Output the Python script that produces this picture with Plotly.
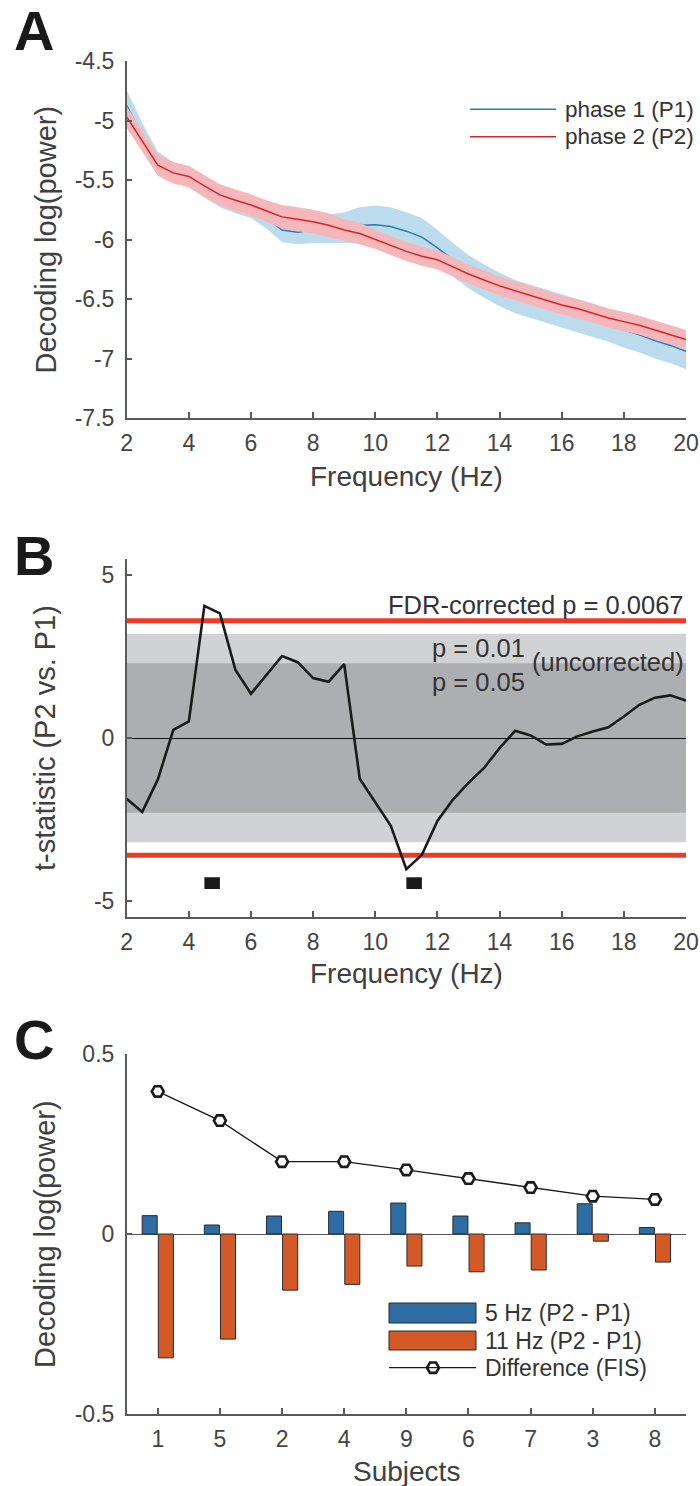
import plotly.graph_objects as go

# ---------------- data ----------------
freq = [2.0, 2.5, 3.0, 3.5, 4.0, 4.5, 5.0, 5.5, 6.0, 6.5, 7.0, 7.5, 8.0, 8.5, 9.0, 9.5,
        10.0, 10.5, 11.0, 11.5, 12.0, 12.5, 13.0, 13.5, 14.0, 14.5, 15.0, 15.5, 16.0,
        16.5, 17.0, 17.5, 18.0, 18.5, 19.0, 19.5, 20.0]

p1_mean = [-4.875, -5.12, -5.34, -5.43, -5.48, -5.57, -5.65, -5.70, -5.74, -5.82, -5.92,
           -5.94, -5.92, -5.91, -5.90, -5.88, -5.875, -5.89, -5.93, -5.98, -6.07, -6.17,
           -6.27, -6.35, -6.42, -6.48, -6.52, -6.56, -6.60, -6.64, -6.68, -6.72, -6.76,
           -6.80, -6.85, -6.89, -6.94]
p1_sem = [0.13, 0.10, 0.08, 0.08, 0.08, 0.08, 0.08, 0.08, 0.08, 0.09, 0.10, 0.10, 0.11,
          0.12, 0.13, 0.15, 0.16, 0.16, 0.16, 0.16, 0.15, 0.14, 0.14, 0.14, 0.14, 0.14,
          0.14, 0.14, 0.14, 0.14, 0.14, 0.14, 0.15, 0.15, 0.15, 0.15, 0.15]

p2_mean = [-4.97, -5.17, -5.375, -5.44, -5.47, -5.55, -5.625, -5.67, -5.71, -5.76, -5.81,
           -5.83, -5.85, -5.88, -5.92, -5.95, -6.00, -6.05, -6.10, -6.14, -6.17, -6.23,
           -6.29, -6.34, -6.39, -6.43, -6.47, -6.51, -6.55, -6.58, -6.62, -6.66, -6.69,
           -6.72, -6.76, -6.80, -6.84]
p2_sem = [0.09, 0.09, 0.09, 0.09, 0.09, 0.09, 0.09, 0.09, 0.09, 0.09, 0.10, 0.10, 0.10,
          0.10, 0.09, 0.09, 0.08, 0.08, 0.08, 0.08, 0.08, 0.08, 0.08, 0.08, 0.08, 0.08,
          0.08, 0.08, 0.08, 0.08, 0.08, 0.08, 0.08, 0.08, 0.08, 0.08, 0.08]

t_stat = [-1.87, -2.27, -1.28, 0.25, 0.51, 4.06, 3.83, 2.09, 1.36, 1.94, 2.52, 2.33, 1.84,
          1.73, 2.27, -1.25, -1.99, -2.70, -4.03, -3.59, -2.55, -1.89, -1.38, -0.92, -0.31,
          0.22, 0.08, -0.20, -0.18, 0.05, 0.20, 0.33, 0.66, 1.02, 1.24, 1.31, 1.15]

thr_p05 = 2.3
thr_p01 = 3.2
thr_fdr = 3.6
sig_center = [4.75, 11.25]
sig_width = 0.5
sig_level = -4.46
sig_height = 0.36

subjects = ["1", "5", "2", "4", "9", "6", "7", "3", "8"]
diff_5hz = [0.051, 0.025, 0.050, 0.063, 0.086, 0.050, 0.031, 0.084, 0.018]
diff_11hz = [-0.344, -0.292, -0.156, -0.140, -0.089, -0.105, -0.100, -0.020, -0.078]
fis = [0.396, 0.315, 0.201, 0.201, 0.178, 0.154, 0.129, 0.105, 0.096]

# ---------------- style ----------------
FONT = "Liberation Sans, Arial, Helvetica, sans-serif"
W, H = 700, 1486
AXC = "#5a5a5a"
TXT = "#333333"
BLUE_L = "#2a7bbd"
BLUE_F = "#bcdced"
RED_L = "#dc2229"
RED_F = "#f5b7ba"
BAR_B = "#2e6ca4"
BAR_O = "#d35a27"


def px(x):
    return x / W


def py(y):
    return 1 - y / H


fig = go.Figure()

# ---- Panel A ----
fig.add_trace(go.Scatter(
    x=freq + freq[::-1],
    y=[m + s for m, s in zip(p1_mean, p1_sem)] + [m - s for m, s in zip(p1_mean, p1_sem)][::-1],
    fill="toself", fillcolor=BLUE_F, line=dict(width=0), mode="lines",
    hoverinfo="skip", showlegend=False, xaxis="x", yaxis="y"))
fig.add_trace(go.Scatter(x=freq, y=p1_mean, mode="lines", line=dict(color=BLUE_L, width=1.5),
                         showlegend=False, xaxis="x", yaxis="y"))
fig.add_trace(go.Scatter(
    x=freq + freq[::-1],
    y=[m + s for m, s in zip(p2_mean, p2_sem)] + [m - s for m, s in zip(p2_mean, p2_sem)][::-1],
    fill="toself", fillcolor=RED_F, line=dict(width=0), mode="lines",
    hoverinfo="skip", showlegend=False, xaxis="x", yaxis="y"))
fig.add_trace(go.Scatter(x=freq, y=p2_mean, mode="lines", line=dict(color=RED_L, width=1.5),
                         showlegend=False, xaxis="x", yaxis="y"))

# ---- Panel B ----
fig.add_trace(go.Scatter(x=freq, y=t_stat, mode="lines", line=dict(color="#1a1a1a", width=2.6),
                         showlegend=False, xaxis="x2", yaxis="y2"))
fig.add_trace(go.Bar(x=sig_center, y=[sig_height] * len(sig_center),
                     base=[sig_level - sig_height / 2] * len(sig_center),
                     width=sig_width, marker=dict(color="#1a1a1a", line=dict(width=0)),
                     showlegend=False, xaxis="x2", yaxis="y2"))

# ---- Panel C ----
fig.add_trace(go.Bar(x=subjects, y=diff_5hz, marker=dict(color=BAR_B, line=dict(color="#2b2b2b", width=1)),
                     showlegend=False, xaxis="x3", yaxis="y3"))
fig.add_trace(go.Bar(x=subjects, y=diff_11hz, marker=dict(color=BAR_O, line=dict(color="#2b2b2b", width=1)),
                     showlegend=False, xaxis="x3", yaxis="y3"))
fig.add_trace(go.Scatter(x=subjects, y=fis, mode="lines+markers",
                         line=dict(color="#1a1a1a", width=1.3),
                         marker=dict(symbol="hexagon2", size=12, color="white",
                                     line=dict(color="#1a1a1a", width=2.6)),
                         showlegend=False, xaxis="x3", yaxis="y3"))

# ---------------- axes ----------------
xdom = [px(126.7), px(686)]
common = dict(showline=True, linecolor=AXC, linewidth=1.5, ticks="inside", ticklen=6,
              tickwidth=1.5, tickcolor=AXC, showgrid=False, zeroline=False, automargin=False,
              tickfont=dict(family=FONT, size=23, color="#444444"))
XSO = 4
YSO = 6

shapes = []
annotations = []

fig.update_layout(
    xaxis=dict(domain=xdom, anchor="y", range=[2, 20], tickvals=list(range(2, 21, 2)),
               ticklabelstandoff=XSO, **common),
    yaxis=dict(domain=[py(418), py(61)], anchor="x", range=[-7.5, -4.5],
               tickvals=[-7.5, -7, -6.5, -6, -5.5, -5, -4.5],
               ticktext=["-7.5", "-7", "-6.5", "-6", "-5.5", "-5", "-4.5"],
               ticklabelstandoff=YSO, **common),
    xaxis2=dict(domain=xdom, anchor="y2", range=[2, 20], tickvals=list(range(2, 21, 2)),
                ticklabelstandoff=XSO, **common),
    yaxis2=dict(domain=[py(917), py(559)], anchor="x2", range=[-5.5, 5.5],
                tickvals=[-5, 0, 5], ticktext=["-5", "0", "5"],
                ticklabelstandoff=YSO, **common),
    xaxis3=dict(domain=xdom, anchor="y3", type="category", range=[-0.5, 8.5],
                ticklabelstandoff=XSO, **common),
    yaxis3=dict(domain=[py(1414), py(1054)], anchor="x3", range=[-0.5, 0.5],
                tickvals=[-0.5, 0, 0.5], ticktext=["-0.5", "0", "0.5"],
                ticklabelstandoff=YSO, **common),
    xaxis4=dict(domain=[0, 1], range=[0, 1], visible=False, anchor="y4", fixedrange=True,
                automargin=False),
    yaxis4=dict(domain=[0, 1], range=[0, 1], visible=False, anchor="x4", fixedrange=True,
                automargin=False),
)
fig.update_layout(yaxis2=dict(zeroline=True, zerolinecolor="#111111", zerolinewidth=1),
                  yaxis3=dict(zeroline=True, zerolinecolor="#555555", zerolinewidth=1))

# B threshold bands
for lo, hi, col in [(-thr_p01, thr_p01, "#d1d2d4"), (-thr_p05, thr_p05, "#adaeb1")]:
    shapes.append(dict(type="rect", xref="x2 domain", yref="y2", x0=0, x1=1, y0=lo, y1=hi,
                       fillcolor=col, line=dict(width=0), layer="below"))
for v in (thr_fdr, -thr_fdr):
    shapes.append(dict(type="line", xref="x2 domain", yref="y2", x0=0, x1=1, y0=v, y1=v,
                       line=dict(color="#ef3b24", width=5), layer="below"))

# Panel A legend (manual)
for yy, col, lab in [(109.3, BLUE_L, "phase 1 (P1)"), (136.7, RED_L, "phase 2 (P2)")]:
    shapes.append(dict(type="line", xref="paper", yref="paper", x0=px(470), x1=px(556),
                       y0=py(yy), y1=py(yy), line=dict(color=col, width=1.5)))
    annotations.append(dict(text=lab, xref="paper", yref="paper", x=px(563), y=py(yy),
                            xanchor="left", yanchor="middle", showarrow=False,
                            font=dict(family=FONT, size=22.5, color=TXT)))

# Panel C legend (manual)
for y0, y1, col in [(1303, 1323, BAR_B), (1331, 1350, BAR_O)]:
    shapes.append(dict(type="rect", xref="paper", yref="paper", x0=px(389), x1=px(476),
                       y0=py(y1), y1=py(y0), fillcolor=col, line=dict(color="#2b2b2b", width=1)))
shapes.append(dict(type="line", xref="paper", yref="paper", x0=px(389), x1=px(476),
                   y0=py(1367.7), y1=py(1367.7), line=dict(color="#1a1a1a", width=1.3)))
fig.add_trace(go.Scatter(x=[px(433)], y=[py(1367.7)], mode="markers", xaxis="x4", yaxis="y4",
                         marker=dict(symbol="hexagon2", size=12, color="white",
                                     line=dict(color="#1a1a1a", width=2.6)),
                         showlegend=False, hoverinfo="skip"))
for yy, lab in [(1313, "5 Hz (P2 - P1)"), (1340.5, "11 Hz (P2 - P1)"), (1367.7, "Difference (FIS)")]:
    annotations.append(dict(text=lab, xref="paper", yref="paper", x=px(483), y=py(yy),
                            xanchor="left", yanchor="middle", showarrow=False,
                            font=dict(family=FONT, size=23, color=TXT)))

# Panel B text
annotations += [
    dict(text="FDR-corrected p = 0.0067", xref="paper", yref="paper", x=px(686), y=py(605),
         xanchor="right", yanchor="middle", showarrow=False, font=dict(family=FONT, size=25.5, color=TXT)),
    dict(text="p = 0.01", xref="paper", yref="paper", x=px(430), y=py(648),
         xanchor="left", yanchor="middle", showarrow=False, font=dict(family=FONT, size=25.5, color=TXT)),
    dict(text="p = 0.05", xref="paper", yref="paper", x=px(430), y=py(682),
         xanchor="left", yanchor="middle", showarrow=False, font=dict(family=FONT, size=25.5, color=TXT)),
    dict(text="(uncorrected)", xref="paper", yref="paper", x=px(686), y=py(662),
         xanchor="right", yanchor="middle", showarrow=False, font=dict(family=FONT, size=25.5, color=TXT)),
]

# Axis titles
for xt, yc in [("Frequency (Hz)", 476), ("Frequency (Hz)", 973), ("Subjects", 1471)]:
    annotations.append(dict(text=xt, xref="paper", yref="paper", x=px(406), y=py(yc),
                            xanchor="center", yanchor="middle", showarrow=False,
                            font=dict(family=FONT, size=28, color="#404040")))
for yt, yc in [("Decoding log(power)", 239.5), ("t-statistic (P2 vs. P1)", 738), ("Decoding log(power)", 1234)]:
    annotations.append(dict(text=yt, xref="paper", yref="paper", x=px(45), y=py(yc),
                            xanchor="center", yanchor="middle", textangle=-90, showarrow=False,
                            font=dict(family=FONT, size=29, color="#404040")))

# Panel letters
for lt, yc in [("A", 31), ("B", 555), ("C", 1039)]:
    annotations.append(dict(text="<b>%s</b>" % lt, xref="paper", yref="paper", x=px(34), y=py(yc),
                            xanchor="center", yanchor="middle", showarrow=False,
                            font=dict(family=FONT, size=56, color="#1a1a1a")))

fig.update_layout(
    width=W, height=H, margin=dict(l=0, r=0, t=0, b=0, pad=0, autoexpand=False),
    paper_bgcolor="white", plot_bgcolor="rgba(0,0,0,0)",
    barmode="group", bargap=0.48, bargroupgap=0.07,
    shapes=shapes, annotations=annotations, showlegend=False,
    font=dict(family=FONT),
)

fig.write_html("out.html")
